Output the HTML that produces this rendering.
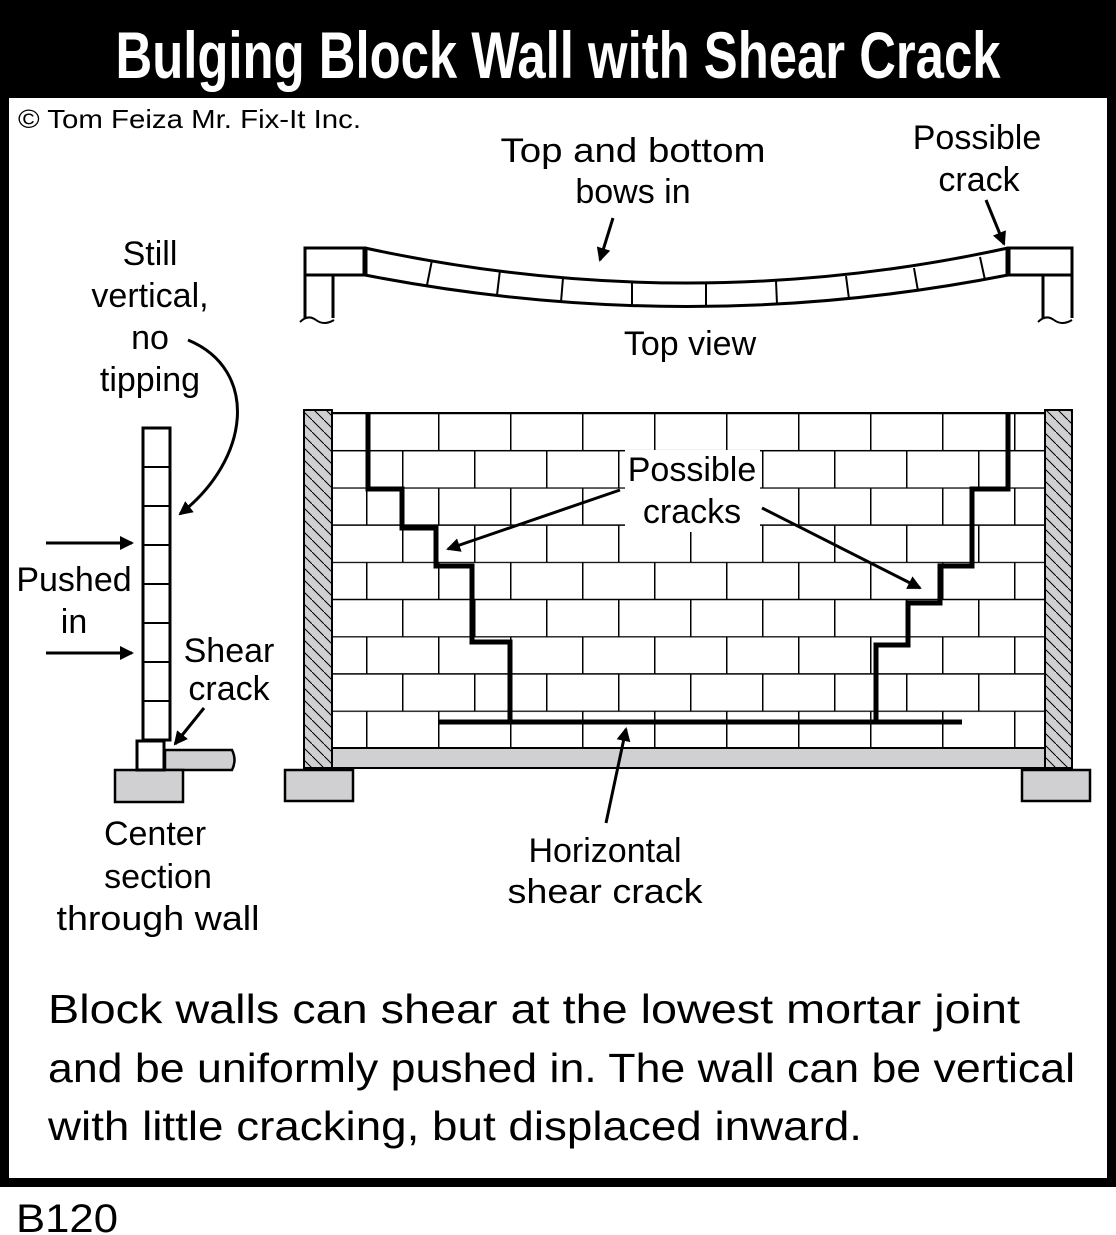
<!DOCTYPE html>
<html><head><meta charset="utf-8"><style>
html,body{margin:0;padding:0;background:#fff;}
svg{display:block;}
text{font-family:"Liberation Sans",sans-serif;fill:#000;}
</style></head><body>
<svg width="1116" height="1235" viewBox="0 0 1116 1235" xmlns="http://www.w3.org/2000/svg">
<defs>
<pattern id="br" patternUnits="userSpaceOnUse" x="366" y="413" width="72" height="74.4">
<path d="M0 0.5H72M0 37.7H72M0.75 0V37.2M36.75 37.2V74.4" stroke="#000" stroke-width="1.5" fill="none"/>
</pattern>
<pattern id="hat" patternUnits="userSpaceOnUse" width="12" height="12">
<path d="M-3 -3L15 15" stroke="#000" stroke-width="1"/>
</pattern>
<marker id="ah" markerWidth="14" markerHeight="14" refX="12" refY="7" orient="auto" markerUnits="userSpaceOnUse" viewBox="0 0 14 14">
<path d="M0 0L14 7L0 14z" fill="#000"/>
</marker>
</defs>
<rect x="0" y="0" width="1116" height="1187" fill="#000"/>
<rect x="9" y="98" width="1098" height="1080" fill="#fff"/>
<text x="558" y="78" text-anchor="middle" font-family="Liberation Sans Narrow, Liberation Sans, sans-serif" font-weight="bold" font-size="66" style="fill:#fff" textLength="885" lengthAdjust="spacingAndGlyphs">Bulging Block Wall with Shear Crack</text>
<text x="18" y="128" font-size="26" textLength="343" lengthAdjust="spacingAndGlyphs">© Tom Feiza Mr. Fix-It Inc.</text>

<g fill="none" stroke="#000" stroke-width="3">
<path d="M305 318V248H365V275H333V318"/>
<path d="M305 275H333"/>
<path d="M1072 318V248H1008V275H1043V318"/>
<path d="M1072 275H1043"/>
<path d="M365 248Q688 318 1008 248"/>
<path d="M365 275Q688 338 1008 275"/>
<path d="M365 248V275M1008 248V275" stroke-width="5"/>
<path d="M300 322q8 -8 16 -2t18 0M1038 322q8 -8 16 -2t18 0" stroke-width="2"/>
</g>
<g stroke="#000" stroke-width="2">
<path d="M432 260L427 285M500 270L497 295M563 278L561 302M632 282L632 306M706 283L706 306M776 281L777 304M846 276L849 299M914 268L918 291M980 257L985 280"/>
</g>
<path d="M613 218L600 260" stroke="#000" stroke-width="3" marker-end="url(#ah)"/>
<path d="M986 200L1004 244" stroke="#000" stroke-width="3" marker-end="url(#ah)"/>
<text x="633" y="162" text-anchor="middle" font-size="34" textLength="265" lengthAdjust="spacingAndGlyphs">Top and bottom</text>
<text x="633" y="203" text-anchor="middle" font-size="34">bows in</text>
<text x="977" y="149" text-anchor="middle" font-size="34">Possible</text>
<text x="979" y="191" text-anchor="middle" font-size="34">crack</text>
<text x="690" y="355" text-anchor="middle" font-size="34">Top view</text>

<rect x="304" y="410" width="28" height="358" fill="#d0d0d2" stroke="#000" stroke-width="2"/>
<rect x="304" y="410" width="28" height="358" fill="url(#hat)"/>
<rect x="1045" y="410" width="27" height="358" fill="#d0d0d2" stroke="#000" stroke-width="2"/>
<rect x="1045" y="410" width="27" height="358" fill="url(#hat)"/>
<rect x="332" y="413" width="713" height="335" fill="url(#br)"/>
<rect x="332" y="413" width="713" height="335" fill="none" stroke="#000" stroke-width="2"/>
<rect x="332" y="748" width="713" height="20" fill="#d0d0d2" stroke="#000" stroke-width="2"/>
<rect x="285" y="770" width="68" height="31" fill="#d0d0d2" stroke="#000" stroke-width="2.5"/>
<rect x="1022" y="770" width="68" height="31" fill="#d0d0d2" stroke="#000" stroke-width="2.5"/>
<g fill="none" stroke="#000" stroke-width="5">
<path d="M368 413V489H402V528H436V566H472V642H510V722"/>
<path d="M438 722H962"/>
<path d="M1008 413V489H972V566H940V603H908V645H876V722"/>
</g>
<g stroke="#000" stroke-width="3">
<path d="M620 490L448 549" marker-end="url(#ah)"/>
<path d="M762 508L920 588" marker-end="url(#ah)"/>
<path d="M606 823L626 729" marker-end="url(#ah)"/>
</g>
<rect x="625" y="450" width="135" height="82" fill="#fff"/>
<text x="692" y="481" text-anchor="middle" font-size="34">Possible</text>
<text x="692" y="523" text-anchor="middle" font-size="34">cracks</text>
<text x="605" y="862" text-anchor="middle" font-size="34">Horizontal</text>
<text x="605" y="903" text-anchor="middle" font-size="34" textLength="195" lengthAdjust="spacingAndGlyphs">shear crack</text>

<rect x="143" y="428" width="27" height="312" fill="#fff" stroke="#000" stroke-width="3"/>
<path d="M143 467H170M143 506H170M143 545H170M143 584H170M143 623H170M143 662H170M143 701H170" stroke="#000" stroke-width="2"/>
<path d="M165 750H232q5 10 0 20H165z" fill="#d0d0d2" stroke="#000" stroke-width="2.5"/>
<rect x="115" y="770" width="68" height="32" fill="#d0d0d2" stroke="#000" stroke-width="2.5"/>
<rect x="137" y="741" width="27" height="29" fill="#fff" stroke="#000" stroke-width="3"/>
<g stroke="#000" stroke-width="3" fill="none">
<path d="M46 543H132" marker-end="url(#ah)"/>
<path d="M46 653H132" marker-end="url(#ah)"/>
<path d="M204 708L175 744" marker-end="url(#ah)"/>
<path d="M188 340C260 370 250 460 180 514" marker-end="url(#ah)"/>
</g>
<text x="150" y="265" text-anchor="middle" font-size="34">Still</text>
<text x="150" y="307" text-anchor="middle" font-size="34">vertical,</text>
<text x="150" y="349" text-anchor="middle" font-size="34">no</text>
<text x="150" y="391" text-anchor="middle" font-size="34">tipping</text>
<text x="74" y="591" text-anchor="middle" font-size="34">Pushed</text>
<text x="74" y="633" text-anchor="middle" font-size="34">in</text>
<text x="229" y="662" text-anchor="middle" font-size="34">Shear</text>
<text x="229" y="700" text-anchor="middle" font-size="34">crack</text>
<text x="155" y="845" text-anchor="middle" font-size="34">Center</text>
<text x="158" y="888" text-anchor="middle" font-size="34">section</text>
<text x="158" y="930" text-anchor="middle" font-size="34" textLength="203" lengthAdjust="spacingAndGlyphs">through wall</text>

<text x="48" y="1023" font-size="41" textLength="972" lengthAdjust="spacingAndGlyphs">Block walls can shear at the lowest mortar joint</text>
<text x="48" y="1082" font-size="41" textLength="1027" lengthAdjust="spacingAndGlyphs">and be uniformly pushed in.  The wall can be vertical</text>
<text x="48" y="1140" font-size="41" textLength="814" lengthAdjust="spacingAndGlyphs">with little cracking, but displaced inward.</text>
<text x="16" y="1232" font-size="40" textLength="102" lengthAdjust="spacingAndGlyphs">B120</text>
</svg>
</body></html>
